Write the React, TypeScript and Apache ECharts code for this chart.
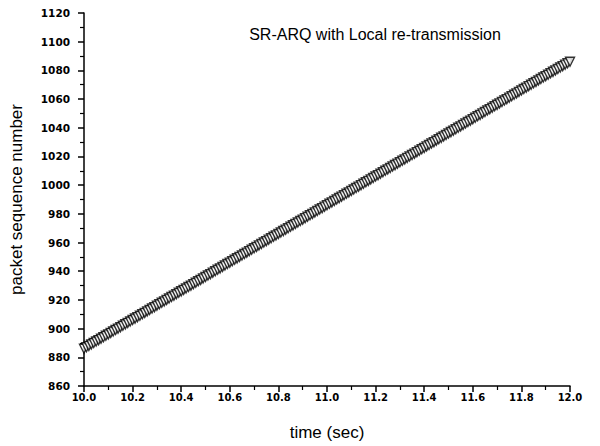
import React, { useEffect, useRef } from "react";
import * as echarts from "echarts";

const title = "SR-ARQ with Local re-transmission";
const xName = "time (sec)";
const yName = "packet sequence number";

// measured packet arrivals (time in sec)
const times = [
  10.0, 10.01, 10.02, 10.03, 10.04, 10.05, 10.06, 10.07, 10.08, 10.09,
  10.1, 10.11, 10.12, 10.13, 10.14, 10.15, 10.16, 10.17, 10.18, 10.19,
  10.2, 10.21, 10.22, 10.23, 10.24, 10.25, 10.26, 10.27, 10.28, 10.29,
  10.3, 10.31, 10.32, 10.33, 10.34, 10.35, 10.36, 10.37, 10.38, 10.39,
  10.4, 10.41, 10.42, 10.43, 10.44, 10.45, 10.46, 10.47, 10.48, 10.49,
  10.5, 10.51, 10.52, 10.53, 10.54, 10.55, 10.56, 10.57, 10.58, 10.59,
  10.6, 10.61, 10.62, 10.63, 10.64, 10.65, 10.66, 10.67, 10.68, 10.69,
  10.7, 10.71, 10.72, 10.73, 10.74, 10.75, 10.76, 10.77, 10.78, 10.79,
  10.8, 10.81, 10.82, 10.83, 10.84, 10.85, 10.86, 10.87, 10.88, 10.89,
  10.9, 10.91, 10.92, 10.93, 10.94, 10.95, 10.96, 10.97, 10.98, 10.99,
  11.0, 11.01, 11.02, 11.03, 11.04, 11.05, 11.06, 11.07, 11.08, 11.09,
  11.1, 11.11, 11.12, 11.13, 11.14, 11.15, 11.16, 11.17, 11.18, 11.19,
  11.2, 11.21, 11.22, 11.23, 11.24, 11.25, 11.26, 11.27, 11.28, 11.29,
  11.3, 11.31, 11.32, 11.33, 11.34, 11.35, 11.36, 11.37, 11.38, 11.39,
  11.4, 11.41, 11.42, 11.43, 11.44, 11.45, 11.46, 11.47, 11.48, 11.49,
  11.5, 11.51, 11.52, 11.53, 11.54, 11.55, 11.56, 11.57, 11.58, 11.59,
  11.6, 11.61, 11.62, 11.63, 11.64, 11.65, 11.66, 11.67, 11.68, 11.69,
  11.7, 11.71, 11.72, 11.73, 11.74, 11.75, 11.76, 11.77, 11.78, 11.79,
  11.8, 11.81, 11.82, 11.83, 11.84, 11.85, 11.86, 11.87, 11.88, 11.89,
  11.9, 11.91, 11.92, 11.93, 11.94, 11.95, 11.96, 11.97, 11.98, 11.99,
  12.0,
];
// packet sequence numbers received at those times
const seqNums = [
  886, 887, 888, 889, 890, 891, 892, 893, 894, 895,
  896, 897, 898, 899, 900, 901, 902, 903, 904, 905,
  906, 907, 908, 909, 910, 911, 912, 913, 914, 915,
  916, 917, 918, 919, 920, 921, 922, 923, 924, 925,
  926, 927, 928, 929, 930, 931, 932, 933, 934, 935,
  936, 937, 938, 939, 940, 941, 942, 943, 944, 945,
  946, 947, 948, 949, 950, 951, 952, 953, 954, 955,
  956, 957, 958, 959, 960, 961, 962, 963, 964, 965,
  966, 967, 968, 969, 970, 971, 972, 973, 974, 975,
  976, 977, 978, 979, 980, 981, 982, 983, 984, 985,
  986, 987, 988, 989, 990, 991, 992, 993, 994, 995,
  996, 997, 998, 999, 1000, 1001, 1002, 1003, 1004, 1005,
  1006, 1007, 1008, 1009, 1010, 1011, 1012, 1013, 1014, 1015,
  1016, 1017, 1018, 1019, 1020, 1021, 1022, 1023, 1024, 1025,
  1026, 1027, 1028, 1029, 1030, 1031, 1032, 1033, 1034, 1035,
  1036, 1037, 1038, 1039, 1040, 1041, 1042, 1043, 1044, 1045,
  1046, 1047, 1048, 1049, 1050, 1051, 1052, 1053, 1054, 1055,
  1056, 1057, 1058, 1059, 1060, 1061, 1062, 1063, 1064, 1065,
  1066, 1067, 1068, 1069, 1070, 1071, 1072, 1073, 1074, 1075,
  1076, 1077, 1078, 1079, 1080, 1081, 1082, 1083, 1084, 1085,
  1086,
];

// reference line endpoints
const lineTimes = [10.0, 12.03];
const lineSeq = [890, 1090];

export default function App() {
  const ref = useRef<HTMLDivElement>(null);
  useEffect(() => {
    if (!ref.current) return;
    const chart = echarts.init(ref.current, undefined, { renderer: "svg" });
    const font = "Liberation Sans, Arial, sans-serif";
    const tickFont = "DejaVu Sans, sans-serif";
    chart.setOption({
      animation: false,
      backgroundColor: "#fff",
      title: {
        text: title,
        left: 370,
        top: 21,
        textAlign: "center",
        textStyle: { color: "#000", fontSize: 16, fontWeight: "normal", fontFamily: font },
      },
      grid: { left: 77, right: 30, top: 13, bottom: 56, containLabel: false },
      xAxis: {
        type: "value",
        min: 10,
        max: 12,
        interval: 0.2,
        name: xName,
        nameLocation: "middle",
        nameGap: 38,
        nameTextStyle: { color: "#000", fontSize: 17, fontFamily: font },
        axisLine: { lineStyle: { color: "#000", width: 1.5 } },
        axisTick: { length: 6, lineStyle: { color: "#000", width: 1.5 } },
        minorTick: { show: true, splitNumber: 2, length: 4, lineStyle: { color: "#000", width: 1.2 } },
        splitLine: { show: false },
        axisLabel: {
          color: "#000",
          fontSize: 10,
          fontWeight: "bold",
          fontFamily: tickFont,
          margin: 6,
          formatter: (v: number) => v.toFixed(1),
        },
      },
      yAxis: {
        type: "value",
        min: 860,
        max: 1120,
        interval: 20,
        name: yName,
        nameLocation: "middle",
        nameGap: 59,
        nameTextStyle: { color: "#000", fontSize: 17, fontFamily: font },
        axisLine: { show: true, lineStyle: { color: "#000", width: 1.5 } },
        axisTick: { show: true, length: 6, lineStyle: { color: "#000", width: 1.5 } },
        minorTick: { show: true, splitNumber: 2, length: 4, lineStyle: { color: "#000", width: 1.2 } },
        splitLine: { show: false },
        axisLabel: {
          color: "#000",
          fontSize: 10.5,
          fontWeight: "bold",
          fontFamily: tickFont,
          margin: 14,
          formatter: (v: number) => String(v),
        },
      },
      series: [
        {
          type: "line",
          data: lineTimes.map((t, i) => [t, lineSeq[i]]),
          showSymbol: false,
          clip: false,
          lineStyle: { color: "#000", width: 1.4 },
          z: 1,
        },
        {
          type: "scatter",
          data: times.map((t, i) => [t, seqNums[i]]),
          symbol: "triangle",
          symbolRotate: 180,
          symbolSize: 9,
          itemStyle: { color: "#fff", borderColor: "#000", borderWidth: 1.4 },
          z: 2,
        },
      ],
    });
    return () => chart.dispose();
  }, []);
  return <div ref={ref} style={{ width: 600, height: 446, marginLeft: -8, marginTop: -8 }} />;
}
